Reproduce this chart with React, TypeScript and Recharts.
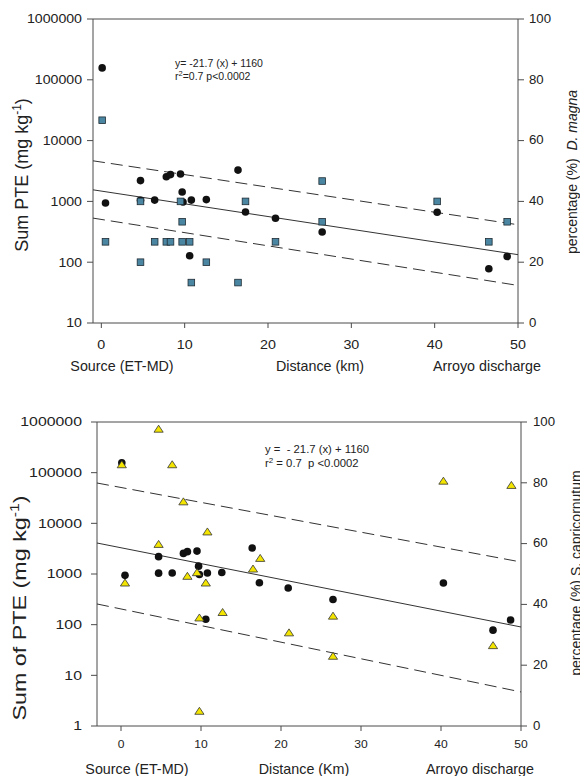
import React from 'react';
import { ScatterChart, Scatter, XAxis, YAxis, ReferenceLine } from 'recharts';

const FONT = '"Liberation Sans", Arial, Helvetica, sans-serif';
const AXIS = '#4a4a4a';

// distance from the source (km) and sum of PTE (mg/kg), same in both panels
const siteKm = [0.1, 0.5, 4.7, 4.7, 6.4, 7.8, 8.3, 9.5, 9.7, 9.8, 10.6, 10.8, 12.6, 16.4, 17.3, 20.9, 26.5, 40.3, 46.5, 48.7];
const sumPte = [157000, 940, 2200, 1040, 1050, 2550, 2760, 2830, 1430, 975, 128, 1050, 1070, 3270, 670, 528, 314, 664, 78, 124];

// D. magna percentage (top panel, right axis)
const magnaKm = [0.1, 0.5, 4.7, 4.7, 6.4, 7.8, 8.3, 9.5, 9.7, 9.7, 10.6, 10.8, 12.6, 16.4, 17.3, 20.9, 26.5, 26.5, 40.3, 46.5, 48.7];
const magnaPct = [66.7, 26.7, 40, 20, 26.7, 26.7, 26.7, 40, 33.3, 26.7, 26.7, 13.3, 20, 13.3, 40, 26.7, 46.7, 33.3, 40, 26.7, 33.3];

// S. capricornutum percentage (bottom panel, right axis)
const capriKm = [0.1, 0.5, 4.7, 4.7, 6.4, 7.8, 8.3, 9.5, 9.8, 9.8, 10.6, 10.8, 12.7, 16.5, 17.4, 21.0, 26.5, 26.5, 40.3, 46.5, 48.8];
const capriPct = [86, 47.1, 97.7, 59.8, 86, 73.8, 49.3, 50.5, 35.6, 4.9, 47.1, 63.9, 37.4, 51.7, 55.2, 30.7, 36.2, 23.0, 80.6, 26.5, 79.2];

// regression line and bands, read at the ends of each x axis
const fitKmTop = [-1, 50];
const fitTop = [1550, 133];
const upperTop = [4650, 413];
const lowerTop = [531, 41.5];

const fitKmBottom = [-3, 50];
const fitBottom = [4090, 90];
const upperBottom = [62500, 1726];
const lowerBottom = [256, 4.7];

const kmTicks = [0, 10, 20, 30, 40, 50];
const pctTicks = [0, 20, 40, 60, 80, 100];
const pteTicksTop = [10, 100, 1000, 10000, 100000, 1000000];
const pteTicksBottom = [1, 10, 100, 1000, 10000, 100000, 1000000];

const zip = (xs: number[], ys: number[]) => xs.map((x, i) => ({ x, y: ys[i] }));

// the original figure's text is a bit wider than normal, so ticks get stretched
const tickFn = (fs: number, sx: number) => (p: any) => (
  <text
    transform={`translate(${p.x},${p.y}) scale(${sx},1)`}
    textAnchor={p.textAnchor}
    dominantBaseline="central"
    fontSize={fs}
    fontFamily={FONT}
    fill="#222"
  >
    {p.payload.value}
  </text>
);

const Dot = (p: any) => <circle cx={p.cx} cy={p.cy} r={3.8} fill="#111" />;
const Square = (p: any) => (
  <rect x={p.cx - 3.3} y={p.cy - 3.3} width={6.6} height={6.6} fill="#4a86a2" stroke="#1e2b33" strokeWidth={0.8} />
);
const Triangle = (p: any) => (
  <path
    d={`M${p.cx},${p.cy - 3.8} L${p.cx + 4.6},${p.cy + 3.2} L${p.cx - 4.6},${p.cy + 3.2} Z`}
    fill="#f3e500"
    stroke="#333"
    strokeWidth={0.8}
  />
);
const NoDot = () => <g />;

const solid = { stroke: '#333', strokeWidth: 1, fill: 'none' };
const dashed = { stroke: '#333', strokeWidth: 1, strokeDasharray: '12 6', fill: 'none' };

function TopPanel() {
  return (
    <ScatterChart width={580} height={360} margin={{ top: 19, right: 0, bottom: 0, left: 0 }}>
      <XAxis type="number" dataKey="x" domain={[-1, 50]} ticks={kmTicks} interval={0} allowDataOverflow
        height={37} tickSize={5} tickMargin={17} stroke={AXIS} tick={tickFn(13, 1.1)} />
      <YAxis yAxisId="pte" type="number" dataKey="y" scale="log" domain={[10, 1000000]} ticks={pteTicksTop}
        interval={0} allowDataOverflow width={93} tickSize={6} tickMargin={5} stroke={AXIS} tick={tickFn(13, 1.09)} />
      <YAxis yAxisId="pct" orientation="right" type="number" dataKey="y" domain={[0, 100]} ticks={pctTicks}
        interval={0} allowDataOverflow width={62} tickSize={6} tickMargin={5} stroke={AXIS} tick={tickFn(12, 1.1)} />
      <ReferenceLine yAxisId="pte" y={1000000} stroke={AXIS} />
      <Scatter yAxisId="pte" data={zip(fitKmTop, upperTop)} shape={NoDot} line={dashed} legendType="none" isAnimationActive={false} />
      <Scatter yAxisId="pte" data={zip(fitKmTop, fitTop)} shape={NoDot} line={solid} legendType="none" isAnimationActive={false} />
      <Scatter yAxisId="pte" data={zip(fitKmTop, lowerTop)} shape={NoDot} line={dashed} legendType="none" isAnimationActive={false} />
      <Scatter yAxisId="pte" data={zip(siteKm, sumPte)} shape={Dot} isAnimationActive={false} />
      <Scatter yAxisId="pct" data={zip(magnaKm, magnaPct)} shape={Square} isAnimationActive={false} />
    </ScatterChart>
  );
}

function BottomPanel() {
  return (
    <ScatterChart width={580} height={396} margin={{ top: 42, right: 0, bottom: 0, left: 0 }}>
      <XAxis type="number" dataKey="x" domain={[-3, 50]} ticks={kmTicks} interval={0} allowDataOverflow
        height={50} tickSize={5} tickMargin={13} stroke={AXIS} tick={tickFn(11.5, 1.05)} />
      <YAxis yAxisId="pte" type="number" dataKey="y" scale="log" domain={[1, 1000000]} ticks={pteTicksBottom}
        interval={0} allowDataOverflow width={97} tickSize={6} tickMargin={9} stroke={AXIS} tick={tickFn(13, 1.22)} />
      <YAxis yAxisId="pct" orientation="right" type="number" dataKey="y" domain={[0, 100]} ticks={pctTicks}
        interval={0} allowDataOverflow width={59} tickSize={6} tickMargin={6} stroke={AXIS} tick={tickFn(12, 1.1)} />
      <ReferenceLine yAxisId="pte" y={1000000} stroke={AXIS} />
      <Scatter yAxisId="pte" data={zip(fitKmBottom, upperBottom)} shape={NoDot} line={dashed} legendType="none" isAnimationActive={false} />
      <Scatter yAxisId="pte" data={zip(fitKmBottom, fitBottom)} shape={NoDot} line={solid} legendType="none" isAnimationActive={false} />
      <Scatter yAxisId="pte" data={zip(fitKmBottom, lowerBottom)} shape={NoDot} line={dashed} legendType="none" isAnimationActive={false} />
      <Scatter yAxisId="pte" data={zip(siteKm, sumPte)} shape={Dot} isAnimationActive={false} />
      <Scatter yAxisId="pct" data={zip(capriKm, capriPct)} shape={Triangle} isAnimationActive={false} />
    </ScatterChart>
  );
}

// axis titles, edge captions and the regression text
function Labels() {
  const t = { fontFamily: FONT, fill: '#222' };
  return (
    <svg width={580} height={776} style={{ position: 'absolute', left: 0, top: 0, pointerEvents: 'none' }}>
      <g {...t} fontSize={10.5}>
        <text x={175} y={67}>y= -21.7 (x) + 1160</text>
        <text x={175} y={80}>r<tspan fontSize={7.5} dy={-4}>2</tspan><tspan dy={4}>=0.7  p&lt;0.0002</tspan></text>
      </g>
      <g {...t} fontSize={11.3}>
        <text x={265} y={453} style={{ whiteSpace: 'pre' }}>y =  - 21.7 (x) + 1160</text>
        <text x={265} y={467} style={{ whiteSpace: 'pre' }}>r<tspan fontSize={8} dy={-4.5}>2</tspan><tspan dy={4.5}> = 0.7  p &lt;0.0002</tspan></text>
      </g>

      <g {...t} fontSize={14.3} textAnchor="middle">
        <text x={122} y={371}>Source (ET-MD)</text>
        <text x={320} y={371}>Distance (km)</text>
        <text x={487} y={371}>Arroyo discharge</text>
        <text x={137} y={774}>Source (ET-MD)</text>
        <text x={304} y={774}>Distance (Km)</text>
        <text x={480} y={774}>Arroyo discharge</text>
      </g>

      <text {...t} fontSize={18} textAnchor="middle" transform="translate(28,175) rotate(-90)">
        Sum PTE (mg kg<tspan fontSize={12} dy={-7}>-1</tspan><tspan dy={7}>)</tspan>
      </text>
      <text {...t} fontSize={18.5} textAnchor="middle" transform="translate(26,608) rotate(-90) scale(1.26,1)">
        Sum of PTE (mg kg<tspan fontSize={12.5} dy={-7.5}>-1</tspan><tspan dy={7.5}>)</tspan>
      </text>

      <text {...t} fontSize={14} textAnchor="middle" transform="translate(577,172) rotate(-90)" style={{ whiteSpace: 'pre' }}>
        percentage (%)  <tspan fontStyle="italic">D. magna</tspan>
      </text>
      <text {...t} fontSize={14} textAnchor="middle" transform="translate(581,573) rotate(-90)">
        percentage (%) S. capricornutum
      </text>
    </svg>
  );
}

export default function App() {
  return (
    <div style={{ position: 'absolute', left: 0, top: 0, width: 580, height: 776, background: '#fff', overflow: 'hidden' }}>
      <div style={{ position: 'absolute', left: 0, top: 0 }}>
        <TopPanel />
      </div>
      <div style={{ position: 'absolute', left: 0, top: 380 }}>
        <BottomPanel />
      </div>
      <Labels />
    </div>
  );
}
